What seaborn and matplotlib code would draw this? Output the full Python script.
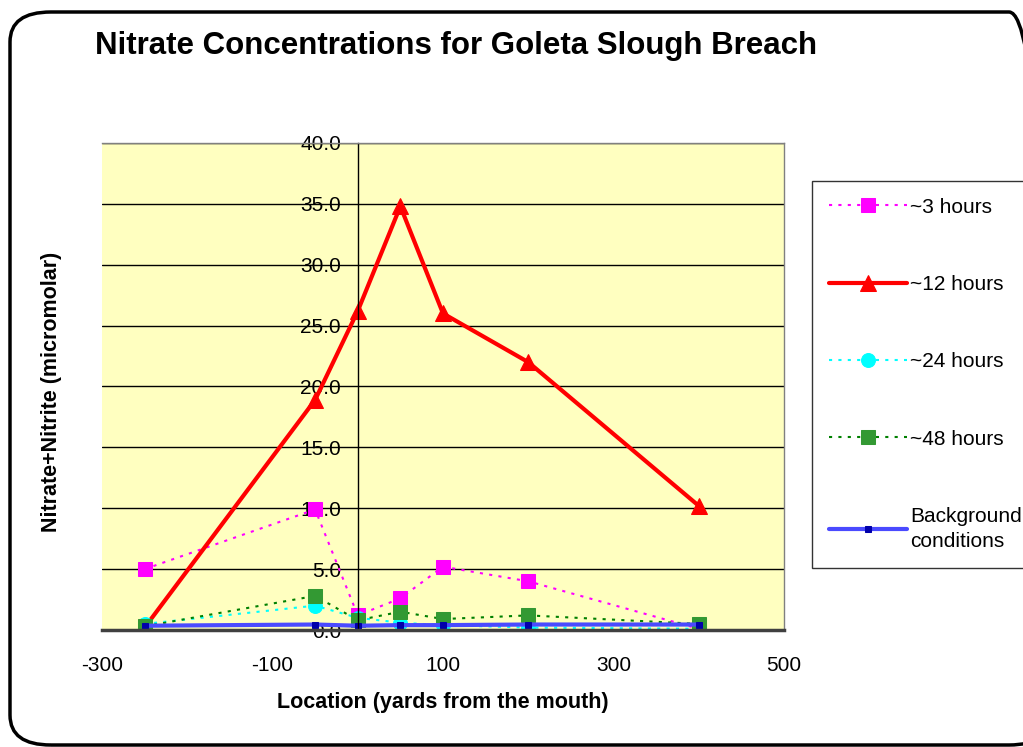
import matplotlib
matplotlib.use("Agg")
import matplotlib.pyplot as plt
import seaborn as sns
import pandas as pd
import numpy as np
from matplotlib.patches import FancyBboxPatch

sns.set_theme(style="white")
plt.rcParams['font.family'] = ['Liberation Sans', 'DejaVu Sans']
plt.rcParams['text.color'] = 'black'
plt.rcParams['axes.labelcolor'] = 'black'
plt.rcParams['xtick.color'] = 'black'
plt.rcParams['ytick.color'] = 'black'

locations = [-250, -50, 0, 50, 100, 200, 400]
hours_3 = [5.0, 9.9, 1.2, 2.6, 5.2, 4.0, 0.1]
hours_12 = [0.2, 18.9, 26.2, 34.8, 26.0, 22.0, 10.2]
hours_24 = [0.5, 2.0, 1.0, 0.6, 0.4, 0.2, 0.1]
hours_48 = [0.3, 2.8, 0.8, 1.5, 0.9, 1.2, 0.5]
background = [0.35, 0.45, 0.35, 0.4, 0.4, 0.45, 0.45]
series_names = ["~3 hours", "~12 hours", "~24 hours", "~48 hours", "Background\nconditions"]
x_ticks = [-300, -100, 100, 300, 500]
y_ticks = [0, 5, 10, 15, 20, 25, 30, 35, 40]

fig = plt.figure(figsize=(10.23, 7.47), dpi=100)
ax = fig.add_axes([102/1023, 1-630/747, (784-102)/1023, (630-143)/747])
ax.set_facecolor('#FFFFC0')

styles = [
    dict(color='#FF00FF', linestyle=(0, (1.5, 3)), linewidth=1.5, marker='s', markersize=10,
         markerfacecolor='#FF00FF', markeredgecolor='#FF00FF'),
    dict(color='#FF0000', linestyle='-', linewidth=3, marker='^', markersize=12,
         markerfacecolor='#FF0000', markeredgecolor='#FF0000'),
    dict(color='#00FFFF', linestyle=(0, (1.5, 3)), linewidth=1.5, marker='o', markersize=10,
         markerfacecolor='#00FFFF', markeredgecolor='#00FFFF'),
    dict(color='#008000', linestyle=(0, (1.5, 3)), linewidth=1.5, marker='s', markersize=10,
         markerfacecolor='#339933', markeredgecolor='#339933'),
    dict(color='#4A4AFF', linestyle='-', linewidth=3, marker='s', markersize=4,
         markerfacecolor='#0000AA', markeredgecolor='#0000AA'),
]
all_series = [hours_3, hours_12, hours_24, hours_48, background]
for name, vals, st in zip(series_names, all_series, styles):
    df = pd.DataFrame({"x": locations, "y": vals})
    sns.lineplot(data=df, x="x", y="y", ax=ax, sort=False, label=name, **st)

ax.set_xlim(-300, 500)
ax.set_ylim(0, 40)
ax.set_xticks(x_ticks)
ax.set_yticks(y_ticks)
ax.set_yticklabels([f"{v:.1f}" for v in y_ticks])
ax.set_xticklabels([str(v) for v in x_ticks])
for y in y_ticks[1:]:
    ax.axhline(y, color='black', linewidth=1, zorder=0.5)

ax.spines['left'].set_position(('data', 0))
ax.spines['left'].set_color('black')
ax.spines['left'].set_linewidth(1)
ax.spines['bottom'].set_color('#404040')
ax.spines['bottom'].set_linewidth(2.5)
ax.spines['top'].set_color('#808080')
ax.spines['right'].set_color('#808080')
ax.spines['top'].set_linewidth(1)
ax.spines['right'].set_linewidth(1)
ax.tick_params(axis='y', direction='out', length=4, width=1, color='black', pad=8,
               labelcolor='black', labelsize=15)
ax.tick_params(axis='x', direction='out', length=6, width=1.5, color='#404040', pad=13,
               labelcolor='black', labelsize=15)

ax.set_xlabel("Location (yards from the mouth)", fontsize=15.5, fontweight='bold', labelpad=12)
ax.set_ylabel("")
fig.text(52/1023, 1-392/747, "Nitrate+Nitrite (micromolar)", rotation=90, fontsize=15.5,
         fontweight='bold', ha='center', va='center')

fig.text(95/1023, 1-46/747, "Nitrate Concentrations for Goleta Slough Breach", fontsize=22.5,
         fontweight='bold', ha='left', va='center')

h, l = ax.get_legend_handles_labels()
ax.get_legend().remove()
leg = fig.legend(h, l, loc='upper left', bbox_to_anchor=(812/1023, 1-181/747), fontsize=15,
                 frameon=True, fancybox=False, edgecolor='black', facecolor='white',
                 handlelength=3.75, labelspacing=2.8, borderpad=0.8, handletextpad=0.15,
                 borderaxespad=0)
leg.get_frame().set_linewidth(1)
for t in leg.get_texts():
    t.set_linespacing(1.4)

border = FancyBboxPatch((10/1023, 1 - 745/747), 1040/1023, (745-12)/747,
                        boxstyle="round,pad=0,rounding_size=0.04",
                        transform=fig.transFigure, facecolor='none', edgecolor='black',
                        linewidth=2.5, zorder=10)
fig.patches.append(border)

fig.savefig("out.png", dpi=100)
